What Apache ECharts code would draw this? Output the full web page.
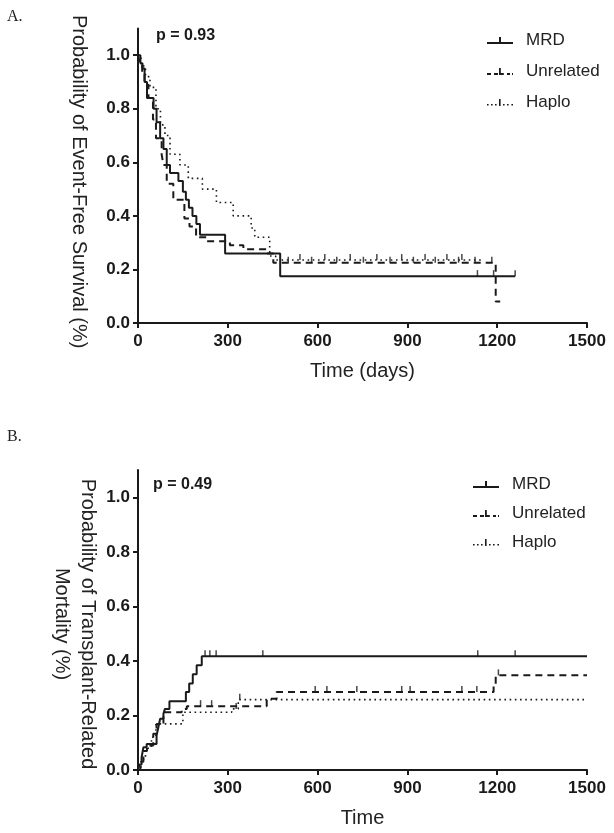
<!DOCTYPE html>
<html><head><meta charset="utf-8">
<script src="https://cdn.jsdelivr.net/npm/echarts@6/dist/echarts.min.js"></script>
<style>html,body{margin:0;padding:0;background:#fff}#c{width:614px;height:833px}</style>
</head><body><div id="c"></div>
<script>
// ---- data ----
const seriesNames = ['MRD', 'Unrelated', 'Haplo'];
const xTicks = [0, 300, 600, 900, 1200, 1500];
const yTicks = [0, 0.2, 0.4, 0.6, 0.8, 1.0];
const pValueA = 'p = 0.93';
const pValueB = 'p = 0.49';

// Panel A: event-free survival (time in days, probability)
const efsMRD = [[0,1.0],[8,0.97],[15,0.95],[22,0.90],[30,0.84],[52,0.80],[62,0.75],[74,0.69],[85,0.65],[96,0.59],[107,0.56],[135,0.53],[150,0.49],[160,0.46],[170,0.43],[182,0.40],[195,0.37],[207,0.33],[291,0.26],[475,0.175],[1260,0.175]];
const efsUnrel = [[0,1.0],[6,0.97],[14,0.93],[22,0.89],[35,0.84],[50,0.76],[60,0.69],[79,0.63],[85,0.59],[96,0.52],[118,0.46],[155,0.39],[172,0.36],[194,0.32],[229,0.305],[307,0.29],[352,0.275],[430,0.26],[452,0.225],[1195,0.08],[1210,0.08]];
const efsHaplo = [[0,1.0],[10,0.96],[25,0.92],[40,0.88],[60,0.80],[75,0.74],[90,0.70],[107,0.63],[140,0.59],[168,0.54],[215,0.50],[262,0.45],[318,0.40],[378,0.355],[390,0.32],[440,0.25],[460,0.235],[1150,0.235]];
const efsMRDCens = [1134, 1188, 1260];
const efsUnrelCens = [502, 580, 664, 753, 842, 920, 993, 1071, 1126, 1182];
const efsHaploCens = [541, 624, 709, 798, 881, 959, 1032, 1082];

// Panel B: transplant-related mortality
const trmMRD = [[0,0],[5,0.02],[12,0.046],[18,0.083],[29,0.095],[62,0.126],[68,0.157],[74,0.188],[85,0.206],[90,0.224],[105,0.252],[160,0.286],[171,0.317],[183,0.351],[196,0.384],[213,0.417],[1500,0.417]];
const trmUnrel = [[0,0],[8,0.03],[18,0.07],[30,0.09],[51,0.133],[62,0.169],[85,0.212],[146,0.224],[163,0.234],[430,0.261],[463,0.286],[1188,0.314],[1195,0.347],[1500,0.347]];
const trmHaplo = [[0,0],[10,0.04],[25,0.08],[45,0.12],[60,0.169],[150,0.212],[313,0.224],[335,0.258],[1490,0.258]];
const trmMRDCens = [224, 240, 261, 417, 1135, 1260];
const trmUnrelCens = [209, 246, 592, 631, 731, 881, 909, 1082, 1132, 1204];
const trmHaploCens = [328, 340];

// ---- chart ----
const INK = '#1a1a1a';
const styles = {
  MRD: { type: 'solid', width: 2 },
  Unrelated: { type: [7, 5], width: 2 },
  Haplo: { type: [1.6, 3.6], width: 1.6 }
};
// legend glyphs: line pattern with a censor tick in the middle
const legendIcons = {
  MRD: 'path://M0,7h26v2h-26z M12,2h2v5h-2z',
  Unrelated: 'path://M0,7h4v2h-4z M7,7h4v2h-4z M12,2h1.8v7h-1.8z M13.8,7h3v2h-3z M20,7h3v2h-3z M25,7h1v2h-1z',
  Haplo: 'path://M0,7h1.6v1.6h-1.6z M4,7h1.6v1.6h-1.6z M8,7h1.6v1.6h-1.6z M12,2h1.6v7h-1.6z M16,7h1.6v1.6h-1.6z M20,7h1.6v1.6h-1.6z M24.4,7h1.6v1.6h-1.6z'
};
function valueAt(curve, t) {
  let v = curve[0][1];
  for (const p of curve) { if (p[0] <= t) v = p[1]; }
  return v;
}
function curveSeries(name, data, idx) {
  return {
    name, type: 'line', step: 'end', data, xAxisIndex: idx, yAxisIndex: idx,
    symbol: 'none', color: INK, silent: true,
    lineStyle: { color: INK, width: styles[name].width, type: styles[name].type }
  };
}
function censorSeries(name, curve, times, idx) {
  return {
    name: name + ' censored', type: 'scatter', xAxisIndex: idx, yAxisIndex: idx,
    data: times.map(t => [t, valueAt(curve, t)]),
    symbol: 'rect', symbolSize: [1.5, 6], symbolOffset: [0, -3],
    itemStyle: { color: INK }, silent: true
  };
}
function xAxis(idx, name) {
  return {
    type: 'value', gridIndex: idx, min: xTicks[0], max: xTicks[xTicks.length - 1], interval: xTicks[1] - xTicks[0],
    name, nameLocation: 'middle', nameGap: 38,
    nameTextStyle: { fontFamily: 'Liberation Sans', fontSize: 20, color: '#222' },
    axisLine: { lineStyle: { color: INK, width: 2 } },
    axisTick: { length: 5, lineStyle: { color: INK, width: 2 } },
    axisLabel: { margin: 10, fontFamily: 'Liberation Sans', fontWeight: 'bold', fontSize: 17, color: INK, formatter: v => String(v) },
    splitLine: { show: false }
  };
}
function yAxis(idx, name, gap, shift, moveOverlap) {
  return {
    type: 'value', gridIndex: idx, min: 0, max: 1.1,
    name, nameLocation: 'middle', nameGap: gap, nameRotate: -90, nameMoveOverlap: moveOverlap,
    nameTextStyle: { fontFamily: 'Liberation Sans', fontSize: 20, color: '#222', lineHeight: 26, padding: [0, 0, 0, shift] },
    axisLine: { lineStyle: { color: INK, width: 2 } },
    axisTick: { length: 5, lineStyle: { color: INK, width: 2 }, customValues: yTicks },
    axisLabel: { margin: 8, fontFamily: 'Liberation Sans', fontWeight: 'bold', fontSize: 17, color: INK, customValues: yTicks, formatter: v => v.toFixed(1) },
    splitLine: { show: false }
  };
}
function legend(left, top, gap) {
  return {
    data: seriesNames.map(n => ({ name: n, icon: legendIcons[n] })),
    orient: 'vertical', left, top,
    itemWidth: 26, itemHeight: 7, itemGap: gap,
    itemStyle: { color: INK },
    textStyle: { fontFamily: 'Liberation Sans', fontSize: 17, color: '#222', padding: [0, 0, 0, 8] },
    selectedMode: false
  };
}
const chart = echarts.init(document.getElementById('c'), null, { renderer: 'canvas' });
chart.setOption({
  backgroundColor: '#fff',
  animation: false,
  grid: [
    { left: 138, right: 27, top: 24, height: 299 },
    { left: 138, right: 27, top: 470, height: 300 }
  ],
  xAxis: [xAxis(0, 'Time (days)'), xAxis(1, 'Time')],
  yAxis: [
    yAxis(0, 'Probability of Event-Free Survival (%)', 46, 12, true),
    yAxis(1, 'Probability of Transplant-Related\nMortality (%)', 37, 8, false)
  ],
  legend: [legend(482, 27, 14), legend(468, 471, 12)],
  graphic: [
    { type: 'text', left: 7, top: 9, style: { text: 'A.', font: '16px "Liberation Serif"', fill: '#222' } },
    { type: 'text', left: 7, top: 429, style: { text: 'B.', font: '16px "Liberation Serif"', fill: '#222' } },
    { type: 'text', left: 156, top: 28, style: { text: pValueA, font: 'bold 16px "Liberation Sans"', fill: INK } },
    { type: 'text', left: 153, top: 477, style: { text: pValueB, font: 'bold 16px "Liberation Sans"', fill: INK } }
  ],
  series: [
    curveSeries('MRD', efsMRD, 0), curveSeries('Unrelated', efsUnrel, 0), curveSeries('Haplo', efsHaplo, 0),
    censorSeries('MRD', efsMRD, efsMRDCens, 0), censorSeries('Unrelated', efsUnrel, efsUnrelCens, 0), censorSeries('Haplo', efsHaplo, efsHaploCens, 0),
    curveSeries('MRD', trmMRD, 1), curveSeries('Unrelated', trmUnrel, 1), curveSeries('Haplo', trmHaplo, 1),
    censorSeries('MRD', trmMRD, trmMRDCens, 1), censorSeries('Unrelated', trmUnrel, trmUnrelCens, 1), censorSeries('Haplo', trmHaplo, trmHaploCens, 1)
  ]
});
</script></body></html>
